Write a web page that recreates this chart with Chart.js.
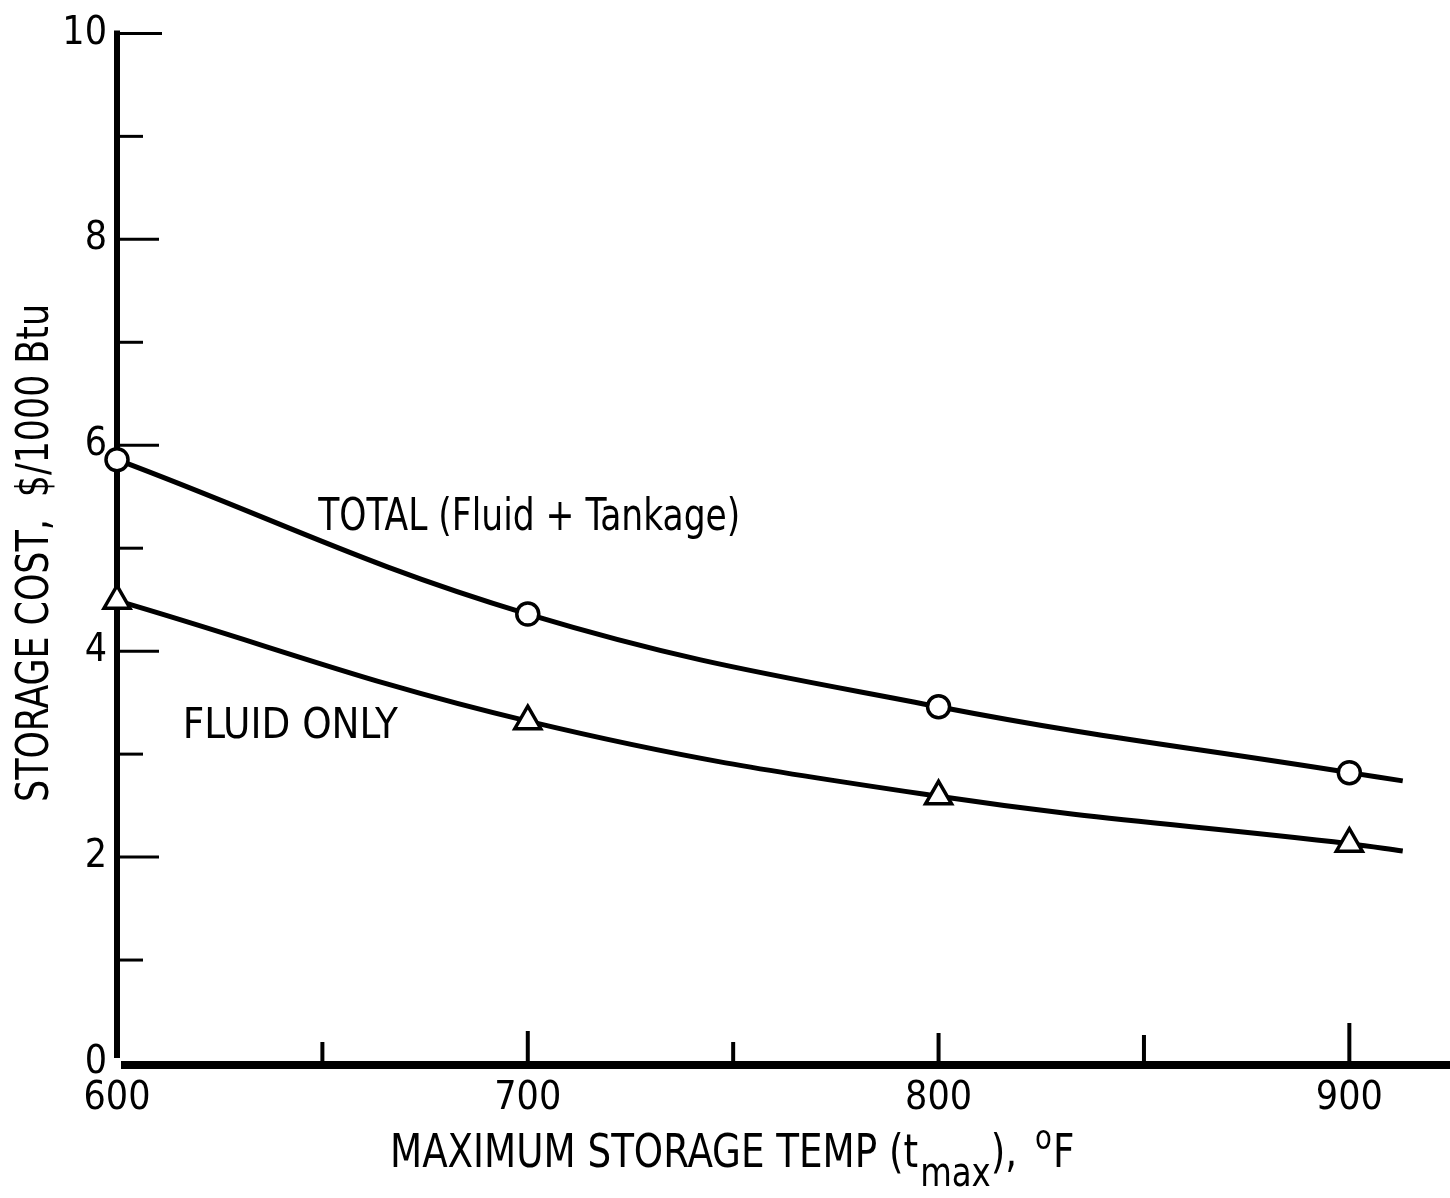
<!DOCTYPE html>
<html>
<head>
<meta charset="utf-8">
<script src="https://cdn.jsdelivr.net/npm/chart.js@4.4.0/dist/chart.umd.min.js"></script>
<style>
  html, body { margin: 0; padding: 0; background: #fff; }
</style>
</head>
<body>
<canvas id="costChart" width="1450" height="1198"></canvas>
<script>
// values
var tempsF = [600, 700, 800, 900, 913];
var totalCost = [5.86, 4.36, 3.46, 2.82, 2.74];
var fluidCost = [4.49, 3.32, 2.59, 2.13, 2.06];
var markerShown = [1, 1, 1, 1, 0];   // last point is only where the drawn curve stops
var xTickLabels = [600, 700, 800, 900];
var xMinorTicks = [650, 700, 750, 800, 850, 900];
var yMinorTicks = [1, 2, 3, 4, 5, 6, 7, 8, 9, 10];
var curveLabels = ['TOTAL (Fluid + Tankage)', 'FLUID ONLY'];

var FONT = "'Liberation Sans Narrow', 'DejaVu Sans Condensed', sans-serif";

function toPoints(ys) {
    var pts = [];
    for (var i = 0; i < tempsF.length; i++) {
        pts.push({ x: tempsF[i], y: ys[i] });
    }
    return pts;
}

// squeeze text horizontally, the scan uses a condensed face
function narrowText(ctx, text, x, y, sx) {
    ctx.save();
    ctx.translate(x, y);
    ctx.scale(sx, 1);
    ctx.fillText(text, 0, 0);
    var w = ctx.measureText(text).width * sx;
    ctx.restore();
    return w;
}

var xTickLen = { 650: 21, 700: 32, 750: 21, 800: 30, 850: 28, 900: 40 };

var axesPlugin = {
    id: 'oldAxes',
    beforeDatasetsDraw: function (chart) {
        var ctx = chart.ctx;
        var xs = chart.scales.x, ys = chart.scales.y;
        var x0 = xs.getPixelForValue(600), y0 = ys.getPixelForValue(0);
        ctx.save();
        ctx.strokeStyle = '#000';
        ctx.lineCap = 'butt';
        // y axis line
        ctx.lineWidth = 6;
        ctx.beginPath();
        ctx.moveTo(x0, ys.getPixelForValue(10) - 3);
        ctx.lineTo(x0, y0 - 5);
        ctx.stroke();
        // x axis line
        ctx.lineWidth = 8;
        ctx.beginPath();
        ctx.moveTo(x0 + 4, y0 + 2);
        ctx.lineTo(chart.width, y0 + 2);
        ctx.stroke();
        // y ticks, pointing inward
        ctx.lineWidth = 3;
        for (var i = 0; i < yMinorTicks.length; i++) {
            var v = yMinorTicks[i];
            var len = (v % 2 === 0) ? 42 : 26;
            if (v === 10) len = 45;
            var py = ys.getPixelForValue(v);
            ctx.beginPath();
            ctx.moveTo(x0, py);
            ctx.lineTo(x0 + len, py);
            ctx.stroke();
        }
        // x ticks, pointing up
        ctx.lineWidth = 4;
        for (var j = 0; j < xMinorTicks.length; j++) {
            var px = xs.getPixelForValue(xMinorTicks[j]);
            ctx.beginPath();
            ctx.moveTo(px, y0);
            ctx.lineTo(px, y0 - xTickLen[xMinorTicks[j]]);
            ctx.stroke();
        }
        ctx.restore();
    },
    afterDraw: function (chart) {
        var ctx = chart.ctx;
        var xs = chart.scales.x, ys = chart.scales.y;
        ctx.save();
        ctx.fillStyle = '#000';
        ctx.textBaseline = 'alphabetic';
        ctx.textAlign = 'left';

        // curve labels
        ctx.font = '44px ' + FONT;
        ctx.fillText(curveLabels[0], xs.getPixelForValue(649), ys.getPixelForValue(5.18), 422);
        ctx.font = '43px ' + FONT;
        ctx.fillText(curveLabels[1], xs.getPixelForValue(616), ys.getPixelForValue(3.16), 215);

        // x axis title with subscript
        var sx = 0.9;
        var bx = 390, by = 1167;
        ctx.font = '46px ' + FONT;
        bx += narrowText(ctx, 'MAXIMUM STORAGE TEMP (t', bx, by, sx);
        ctx.font = '40px ' + FONT;
        bx += narrowText(ctx, 'max', bx + 2, by + 19, sx) + 2;
        ctx.font = '46px ' + FONT;
        bx += narrowText(ctx, '),', bx, by, sx);
        ctx.font = '34px ' + FONT;
        bx += narrowText(ctx, 'o', bx + 18, by - 18, sx) + 18;
        ctx.font = '46px ' + FONT;
        narrowText(ctx, 'F', bx + 1, by, sx);

        // y axis title, rotated
        ctx.save();
        ctx.translate(48, 553);
        ctx.rotate(-Math.PI / 2);
        ctx.scale(0.86, 1);
        ctx.font = '45px ' + FONT;
        ctx.textAlign = 'center';
        ctx.fillText('STORAGE COST,  $/1000 Btu', 0, 0);
        ctx.restore();

        ctx.restore();
    }
};

var ctx = document.getElementById('costChart').getContext('2d');

var costChart = new Chart(ctx, {
    type: 'line',
    data: {
        datasets: [
            {
                label: curveLabels[0],
                data: toPoints(totalCost),
                borderColor: '#000',
                borderWidth: 5,
                backgroundColor: '#fff',
                pointStyle: 'circle',
                pointRadius: markerShown.map(function (m) { return m ? 11 : 0; }),
                pointBorderWidth: 3.5,
                pointBorderColor: '#000',
                pointBackgroundColor: '#fff',
                tension: 0.4,
                clip: false
            },
            {
                label: curveLabels[1],
                data: toPoints(fluidCost),
                borderColor: '#000',
                borderWidth: 5,
                backgroundColor: '#fff',
                pointStyle: 'triangle',
                pointRadius: markerShown.map(function (m) { return m ? 15 : 0; }),
                pointBorderWidth: 3.5,
                pointBorderColor: '#000',
                pointBackgroundColor: '#fff',
                tension: 0.4,
                clip: false
            }
        ]
    },
    options: {
        responsive: false,
        animation: false,
        layout: { padding: { top: 22, right: 0, left: 0, bottom: 0 } },
        plugins: {
            legend: { display: false },
            tooltip: { enabled: false }
        },
        scales: {
            x: {
                type: 'linear',
                min: 600,
                max: 920,
                grid: { display: false, drawTicks: false },
                border: { display: false },
                afterBuildTicks: function (scale) {
                    scale.ticks = xTickLabels.map(function (v) { return { value: v }; });
                },
                ticks: {
                    padding: 12,
                    color: '#000',
                    font: { family: FONT, size: 39 },
                    maxRotation: 0,
                    autoSkip: false
                },
                afterFit: function (scale) { scale.height = 135; }
            },
            y: {
                min: 0,
                max: 10,
                grid: { display: false, drawTicks: false },
                border: { display: false },
                ticks: {
                    stepSize: 2,
                    padding: 10,
                    color: '#000',
                    font: { family: FONT, size: 39 }
                },
                afterFit: function (scale) { scale.width = 117; }
            }
        }
    },
    plugins: [axesPlugin]
});
</script>
</body>
</html>
